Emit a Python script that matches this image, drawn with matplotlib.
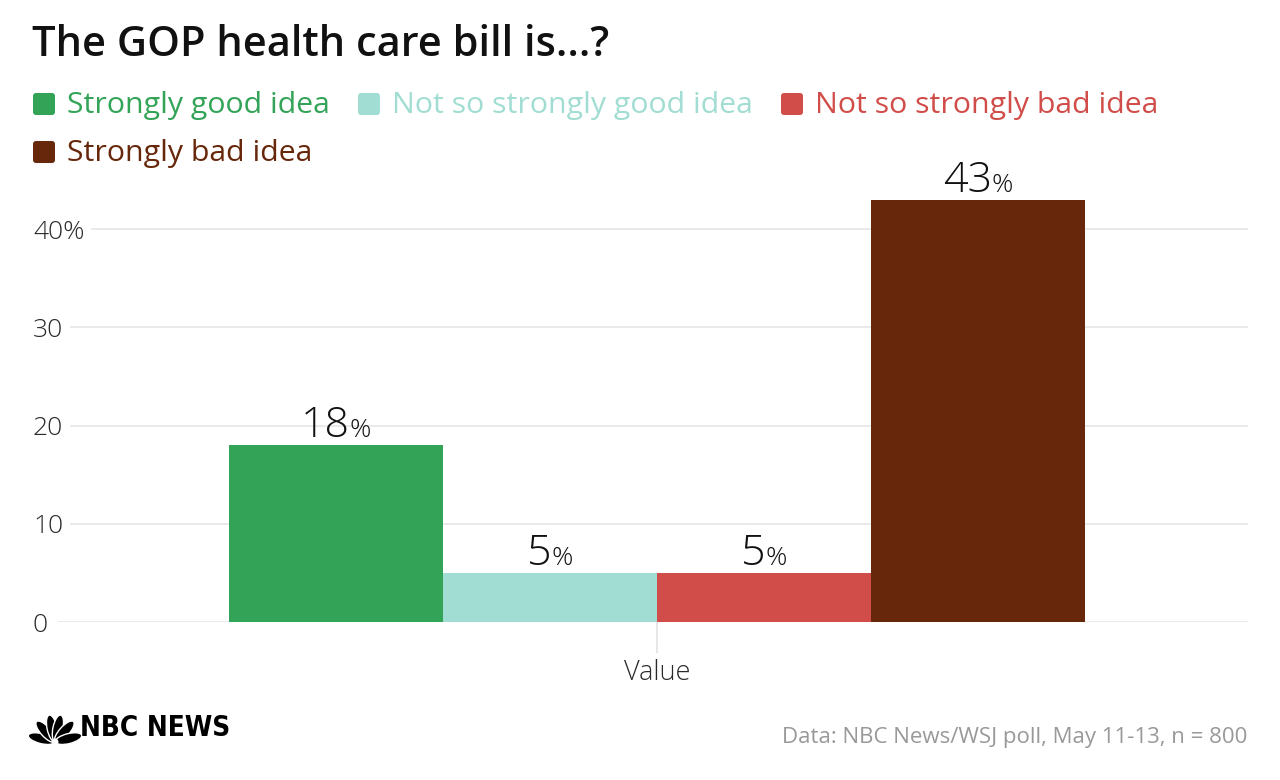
import math
import matplotlib
matplotlib.use('Agg')
import matplotlib.pyplot as plt
import matplotlib.transforms as mtransforms
from matplotlib.patches import FancyBboxPatch, Ellipse

# datos del grafico
categories = ['Strongly good idea', 'Not so strongly good idea',
              'Not so strongly bad idea', 'Strongly bad idea']
values = [18, 5, 5, 43]
colors = ['#33a457', '#a1ddd2', '#d14d49', '#67270a']
group_label = 'Value'
yticks = [0, 10, 20, 30, 40]
ytick_labels = ['0', '10', '20', '30', '40%']

title = 'The GOP health care bill is...?'
source = 'Data: NBC News/WSJ poll, May 11-13, n = 800'

plt.rcParams['font.family'] = ['Open Sans', 'DejaVu Sans']

W, H = 1280, 780
fig = plt.figure(figsize=(W / 100, H / 100), dpi=100)
# transformacion en pixeles, origen arriba a la izquierda
pix = mtransforms.Affine2D().scale(1 / W, -1 / H).translate(0, 1) + fig.transFigure

ax = fig.add_axes([58 / W, 1 - 622 / H, (1248 - 58) / W, (622 - 190) / H])

width = 0.18
offsets = [(i - (len(values) - 1) / 2) * width for i in range(len(values))]
ax.bar(offsets, values, width=width, color=colors, zorder=2)

scale = 214 / width
ax.set_xlim(-(657 - 58) / scale, (1248 - 657) / scale)
ax.set_ylim(0, 44)

for s in ax.spines.values():
    s.set_visible(False)

ax.set_axisbelow(True)
ax.yaxis.grid(True, color='#e8e8e8', lw=1.3)
ax.set_yticks(yticks)
ax.set_yticklabels(ytick_labels)
ax.tick_params(axis='y', length=0, pad=18, labelsize=19, labelcolor='#2a2a2a')
for lab in ax.get_yticklabels():
    lab.set_horizontalalignment('left')
    lab.set_fontweight('light')
    lab.set_bbox(dict(facecolor='white', edgecolor='none', pad=5))

ax.set_xticks([0])
ax.set_xticklabels([group_label], fontweight='light')
ax.tick_params(axis='x', length=22, width=1.2, color='#e3e3e3', pad=5,
               labelsize=19.5, labelcolor='#2a2a2a')

# etiquetas de valor: numero grande + % pequeno, centrados juntos
renderer = fig.canvas.get_renderer()
for x, v in zip(offsets, values):
    num = ax.text(x, v, str(v), fontsize=31, fontweight='light', color='#111111',
                  ha='right', va='baseline')
    pct = ax.text(x, v, '%', fontsize=19, fontweight='light', color='#111111',
                  ha='left', va='baseline')
    wn = num.get_window_extent(renderer).width
    wp = pct.get_window_extent(renderer).width
    gap = 0
    shift = (wn - wp - gap) / 2
    num.set_transform(mtransforms.offset_copy(ax.transData, fig=fig, x=shift, y=8, units='dots'))
    pct.set_transform(mtransforms.offset_copy(ax.transData, fig=fig, x=shift + gap, y=8, units='dots'))

# titulo
fig.text(32, 45, title, transform=pix, fontsize=30, fontweight='semibold',
         color='#111111', ha='left', va='center')

# leyenda manual en dos filas
leg_pos = [(33, 104), (358, 104), (781, 104), (33, 152)]
for (lx, ly), cat, col in zip(leg_pos, categories, colors):
    sq = FancyBboxPatch((lx + 3, ly - 8), 16, 16, boxstyle='round,pad=3',
                        transform=pix, facecolor=col, edgecolor='none')
    fig.patches.append(sq)
    fig.text(lx + 34, ly + 1, cat, transform=pix, fontsize=21.8, color=col,
             ha='left', va='center')

# fuente
fig.text(1247, 738, source, transform=pix, fontsize=16, color='#999999',
         ha='right', va='center')

# logo: pavo real + texto
bx, by = 55, 742
for a in [166, 132, 102, 78, 48, 14]:
    r = 14
    cx = bx + r * math.cos(math.radians(a))
    cy = by - r * math.sin(math.radians(a))
    fig.patches.append(Ellipse((cx, cy), 27, 10, angle=-a, transform=pix,
                               facecolor='black', edgecolor='white', lw=1.0))
fig.patches.append(Ellipse((bx, by), 7, 7, transform=pix, facecolor='white', edgecolor='none'))
fig.text(80, 728, 'NBC NEWS', transform=pix, fontsize=20, fontweight='bold',
         family='DejaVu Sans', fontstretch='condensed', color='black',
         ha='left', va='center')

fig.savefig('out.png', dpi=100)
